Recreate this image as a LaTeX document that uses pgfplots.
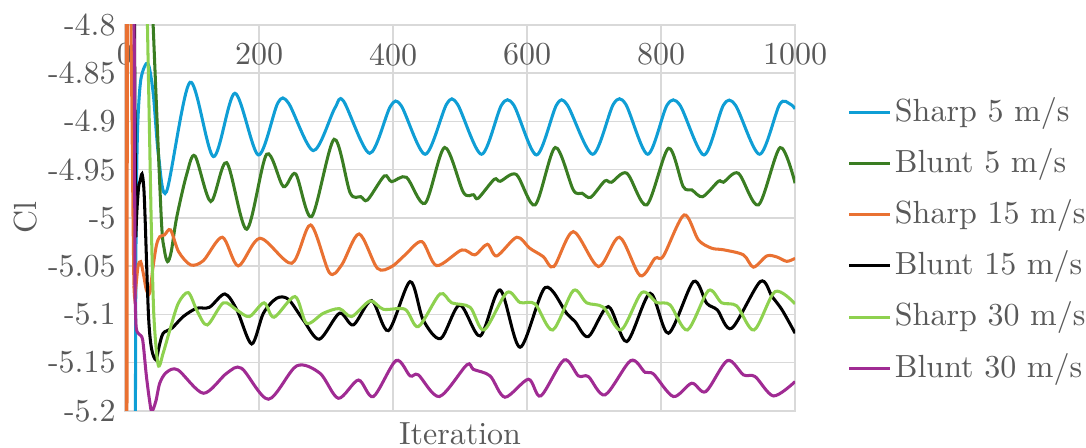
\documentclass[border=0pt]{standalone}
\usepackage{pgfplots}
\pgfplotsset{compat=1.18}
\definecolor{cBlue}{HTML}{0F9ED5}
\definecolor{cDGreen}{HTML}{3A7D22}
\definecolor{cOrange}{HTML}{E97132}
\definecolor{cLGreen}{HTML}{8ED14F}
\definecolor{cPurple}{HTML}{A02B93}
\definecolor{gridgray}{HTML}{D9D9D9}
\definecolor{textgray}{HTML}{595959}
\begin{document}
\begin{tikzpicture}
\path[use as bounding box] (-39.06pt,-11.56pt) rectangle (300.3pt,128.4pt);
\begin{axis}[
  at={(0,0)}, anchor=south west,
  scale only axis, width=209.4pt, height=120.6pt,
  xmin=0, xmax=1000, ymin=-5.2, ymax=-4.8,
  xtick={0,200,400,600,800,1000},
  ytick={-5.2,-5.15,-5.1,-5.05,-5,-4.95,-4.9,-4.85,-4.8},
  /pgf/number format/assume math mode=true,
  /pgf/number format/1000 sep={},
  xticklabel pos=upper,
  xticklabel style={anchor=north, yshift=-2.3pt},
  yticklabel style={xshift=0.6pt},
  major tick length=0pt,
  grid=major, grid style={draw=gridgray, line width=0.45pt},
  axis line style={draw=gridgray, line width=0.45pt},
  tick label style={text=textgray},
  label style={text=textgray},
  xlabel={Iteration},
  xlabel style={at={(axis description cs:0.5,0)}, anchor=north},
  ylabel={Cl},
  ylabel style={at={(axis description cs:-0.149,0.5)}, anchor=center},
  legend cell align=left,
  legend image code/.code={\draw[#1] (0pt,0pt) -- (12.8pt,0pt);},
  legend style={draw=none, fill=none, inner sep=0pt, outer sep=0pt,
    at={(axis description cs:1.0785,0.8255)}, anchor=north west,
    row sep=3.5pt, /tikz/column sep=0pt,
    nodes={text height=8pt, text depth=2.5pt, inner sep=1pt, text=textgray}},
  every axis plot/.append style={line width=0.95pt, no marks},
]
% Sharp 5 m/s
\addplot[cBlue, forget plot] coordinates {(14.8,-5.6) (15.4,-5.25)};
\addplot[cBlue, smooth] coordinates {
(15.4,-5.25) (16.2,-5.05) (17.5,-4.95) (19.5,-4.895) (24,-4.855) (34,-4.8397)
(42,-4.87) (50,-4.935) (62,-4.9727) (97,-4.8594) (132,-4.9364) (164,-4.8708)
(199,-4.9347) (228,-4.8810) (244,-4.8810) (281,-4.9302) (313,-4.8864) (326,-4.8788)
(365,-4.9330) (396,-4.8845) (412,-4.8835) (448,-4.9340) (480,-4.8820) (496,-4.8820)
(532,-4.9340) (562,-4.8829) (580,-4.8829) (614,-4.9347) (644,-4.8829) (660,-4.8829)
(698,-4.9340) (729,-4.8819) (747,-4.8819) (780,-4.9340) (809,-4.8830) (828,-4.8830)
(864,-4.9347) (893,-4.8832) (911,-4.8832) (947,-4.9340) (977,-4.8822) (993,-4.8822)
(1000,-4.8870)};
\addlegendentry{Sharp 5 m/s}
% Blunt 5 m/s
\addplot[cDGreen, forget plot] coordinates {(35,-4.65) (42,-4.80)};
\addplot[cDGreen, smooth] coordinates {
(42,-4.80) (54,-4.998) (58.5,-5.032) (63.5,-5.0453) (69,-5.035) (77,-5.0) (92,-4.955)
(104.5,-4.9358) (128,-4.983) (151.7,-4.9427) (181.6,-5.0117) (211.4,-4.934)
(236.3,-4.9675) (254.7,-4.9544) (278.6,-4.9986) (312,-4.9185) (336,-4.974)
(352,-4.978) (362,-4.9813) (387,-4.9565) (398,-4.9624) (420,-4.9579) (447.8,-4.9848)
(477,-4.927) (505,-4.9735) (520,-4.9760) (527,-4.9796) (551,-4.960) (560,-4.962)
(584,-4.955) (612,-4.9865) (642,-4.927) (669,-4.971) (682,-4.9744) (695,-4.9786)
(716,-4.9617) (726,-4.963) (749,-4.9537) (778.6,-4.9865) (811,-4.9278) (833,-4.9675)
(846,-4.971) (862,-4.978) (885.6,-4.962) (893,-4.963) (915.4,-4.9537) (945.3,-4.9865)
(977.6,-4.9271) (1000,-4.964)};
\addlegendentry{Blunt 5 m/s}
% Sharp 15 m/s
\addplot[cOrange, forget plot] coordinates {(1,-4.5) (2.5,-5.5) (4,-4.5) (6,-4.6) (12,-5.0) (13.3,-5.07)};
\addplot[cOrange, smooth] coordinates {
(13.3,-5.07) (14.5,-5.083) (16.5,-5.07) (19.5,-5.05) (23.4,-5.0453) (28,-5.06)
(32,-5.075) (36.8,-5.078) (42,-5.05) (47,-5.028) (52,-5.0194) (59,-5.0176) (68,-5.0124)
(80,-5.035) (98,-5.0487) (117,-5.0442) (145.3,-5.02) (169,-5.0497) (201.5,-5.021)
(248.8,-5.047) (277,-5.0073) (305,-5.0567) (323.4,-5.0487) (349.3,-5.0166)
(376.6,-5.0522) (398,-5.0504) (418,-5.0383) (443,-5.0245) (465,-5.0494)
(502.5,-5.0332) (522,-5.0383) (540.8,-5.0273) (554.7,-5.0394) (584.6,-5.02)
(604,-5.0314) (624,-5.04) (640,-5.0504) (669,-5.0142) (706.5,-5.0504) (737.8,-5.02)
(768.7,-5.0598) (791,-5.0418) (803.5,-5.0394) (834.3,-4.9969) (855.7,-5.0228)
(875.6,-5.0314) (893,-5.033) (922.9,-5.0383) (937.8,-5.051) (957.7,-5.0394)
(972.5,-5.0404) (987.5,-5.045) (1000,-5.0418)};
\addlegendentry{Sharp 15 m/s}
% Blunt 15 m/s
\addplot[black, forget plot] coordinates {(12.5,-4.6) (16,-5.02)};
\addplot[black, smooth] coordinates {
(16,-5.02) (18,-4.99) (20.4,-4.9675) (22.5,-4.962) (25.4,-4.9544) (28,-4.968)
(30,-5.0) (35,-5.1) (39.5,-5.135) (46,-5.147) (51,-5.133) (57,-5.1195) (70,-5.1143)
(87,-5.1022) (107,-5.0936) (126,-5.0926) (149,-5.0788) (167,-5.0954) (189,-5.1306)
(206.5,-5.0988) (226.4,-5.0832) (243.8,-5.0843) (266,-5.1057) (290,-5.1257)
(320,-5.0988) (340.8,-5.1109) (368,-5.0857) (393,-5.1168) (425.4,-5.066)
(445,-5.1057) (471,-5.125) (499.5,-5.0902) (530,-5.1223) (559.7,-5.0746)
(589.6,-5.134) (626.9,-5.0722) (659,-5.0988) (671.6,-5.1074) (691.5,-5.123)
(721.4,-5.0919) (748.8,-5.1281) (783.6,-5.0781) (811,-5.1195) (848.3,-5.066)
(868,-5.0884) (884,-5.0954) (905.5,-5.1143) (948,-5.066) (965.7,-5.0816)
(980.6,-5.0954) (1000,-5.1195)};
\addlegendentry{Blunt 15 m/s}
% Sharp 30 m/s
\addplot[cLGreen, forget plot] coordinates {(30,-4.5) (33.5,-4.8) (39,-5.0)};
\addplot[cLGreen, smooth] coordinates {
(39,-5.0) (43,-5.1) (49.5,-5.1523) (57,-5.14) (67,-5.116) (79.6,-5.0884) (94.5,-5.0774)
(108,-5.097) (122.9,-5.1109) (146.8,-5.088) (166.7,-5.0954) (185.6,-5.1022)
(207.5,-5.088) (222.4,-5.1029) (253.7,-5.0815) (271,-5.1092) (296,-5.0988)
(320,-5.094) (338.3,-5.1022) (365.7,-5.086) (385.6,-5.0947) (418,-5.0947)
(437.8,-5.1126) (470,-5.0788) (487.6,-5.088) (515,-5.0926) (535.8,-5.1161)
(569.7,-5.0774) (589.6,-5.0877) (612,-5.0891) (638.3,-5.1161) (669,-5.0753)
(689,-5.088) (714,-5.0926) (740.3,-5.1161) (771.1,-5.0774) (793.5,-5.0877)
(813.4,-5.0901) (839.3,-5.1161) (870.6,-5.0753) (890.5,-5.088) (913,-5.0912)
(938.8,-5.1161) (970,-5.0764) (1000,-5.0891)};
\addlegendentry{Sharp 30 m/s}
% Blunt 30 m/s
\addplot[cPurple, forget plot] coordinates {(12.8,-4.6) (15,-5.08)};
\addplot[cPurple, smooth] coordinates {
(15,-5.08) (16.5,-5.112) (19,-5.119) (22,-5.121) (26.5,-5.127) (31.8,-5.163)
(36.8,-5.19) (40,-5.2007) (46,-5.19) (52,-5.171) (62,-5.16) (79,-5.1575)
(117,-5.1817) (151.7,-5.161) (174,-5.1558) (214,-5.1879) (256,-5.1534) (291,-5.161)
(318.4,-5.1869) (348.3,-5.168) (370.6,-5.1851) (404.5,-5.1478) (425.4,-5.1637)
(437.8,-5.1627) (469.2,-5.1851) (510,-5.1523) (520,-5.157) (544.8,-5.1637)
(567,-5.1858) (602,-5.1672) (620.4,-5.1845) (655.2,-5.1472) (676.6,-5.1637)
(691.5,-5.1644) (716.4,-5.1834) (754.7,-5.1478) (776,-5.16) (788.6,-5.1617)
(818.4,-5.1851) (845.8,-5.1713) (866.7,-5.18) (899,-5.1478) (923,-5.1627)
(940.3,-5.1644) (967.7,-5.1845) (1000,-5.1696)};
\addlegendentry{Blunt 30 m/s}
\end{axis}
\end{tikzpicture}
\end{document}
